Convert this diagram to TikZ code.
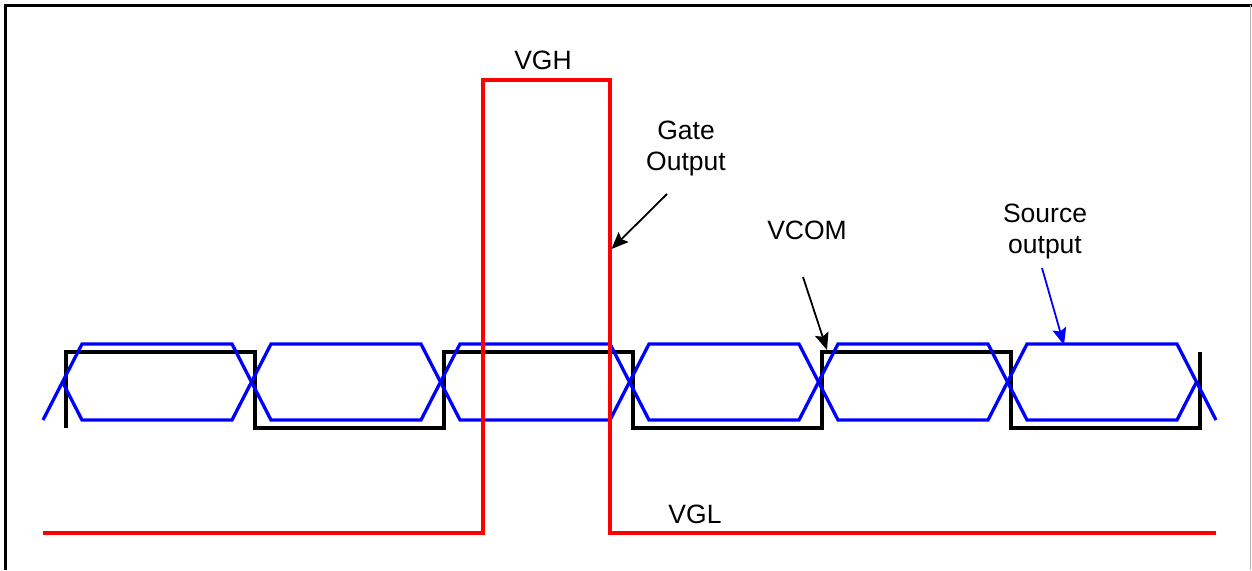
\documentclass[tikz,border=0pt]{standalone}
\usepackage{fontspec}
\setmainfont{Liberation Sans}
\usetikzlibrary{arrows.meta}
\tikzset{
  wave/.style={line width=3.3pt, line join=miter, line cap=butt},
  lbl/.style={font=\fontsize{26.5}{31}\selectfont, inner sep=0pt, align=center},
  ptr/.style={line width=1.8pt, -{Stealth[length=17pt,width=14pt,inset=3pt]}},
  framestyle/.style={line width=3pt, black}
}
\definecolor{srcblue}{RGB}{0,0,255}
\definecolor{gatered}{RGB}{255,0,0}
\begin{document}
\begin{tikzpicture}[x=1pt,y=-1pt]
\useasboundingbox (0,0) rectangle (1252,570);
% frame
\draw[framestyle] (5,570) -- (5,5) -- (1252,5);
\draw[gray!60, line width=0.8pt] (1250.5,5) -- (1250.5,570);
% VCOM (black)
\draw[wave, black] (66,428) -- (66,352) -- (255,352) -- (255,428) -- (444,428) -- (444,352)
  -- (633,352) -- (633,428) -- (822,428) -- (822,352) -- (1011,352) -- (1011,428)
  -- (1200,428) -- (1200,352);
% Source output (blue)
\foreach \k in {0,...,5}{
  \pgfmathsetmacro{\ca}{62.5+189*\k}
  \pgfmathsetmacro{\cb}{\ca+189}
  \draw[wave, srcblue] (\ca,382) -- ({\ca+19.5},344) -- ({\cb-19.5},344) -- (\cb,382)
    -- ({\cb-19.5},420) -- ({\ca+19.5},420) -- cycle;
}
\draw[wave, srcblue] (43,420) -- (62.5,382);
\draw[wave, srcblue] (1196.5,382) -- (1216,420);
% Gate output (red)
\draw[wave, gatered] (43,533) -- (483,533) -- (483,80) -- (610,80) -- (610,533) -- (1216,533);
% labels
\node[lbl, anchor=base] (vgh) at (543,69) {VGH};
\node[lbl, anchor=base] (vgl) at (695,523) {VGL};
\node[lbl, anchor=base] (gate) at (686,170) {Gate\\Output};
\node[lbl, anchor=base] (vcom) at (807,239) {VCOM};
\node[lbl, anchor=base] (src) at (1045,253) {Source\\output};
% pointers
\coordinate (gateS) at (667,194);
\coordinate (gateE) at (611.5,249);
\coordinate (vcomS) at (803,277);
\coordinate (vcomE) at (827,350);
\coordinate (srcS) at (1042,268);
\coordinate (srcE) at (1064,345);
\draw[ptr, black] (gateS) -- (gateE);
\draw[ptr, black] (vcomS) -- (vcomE);
\draw[ptr, srcblue] (srcS) -- (srcE);
\end{tikzpicture}
\end{document}
